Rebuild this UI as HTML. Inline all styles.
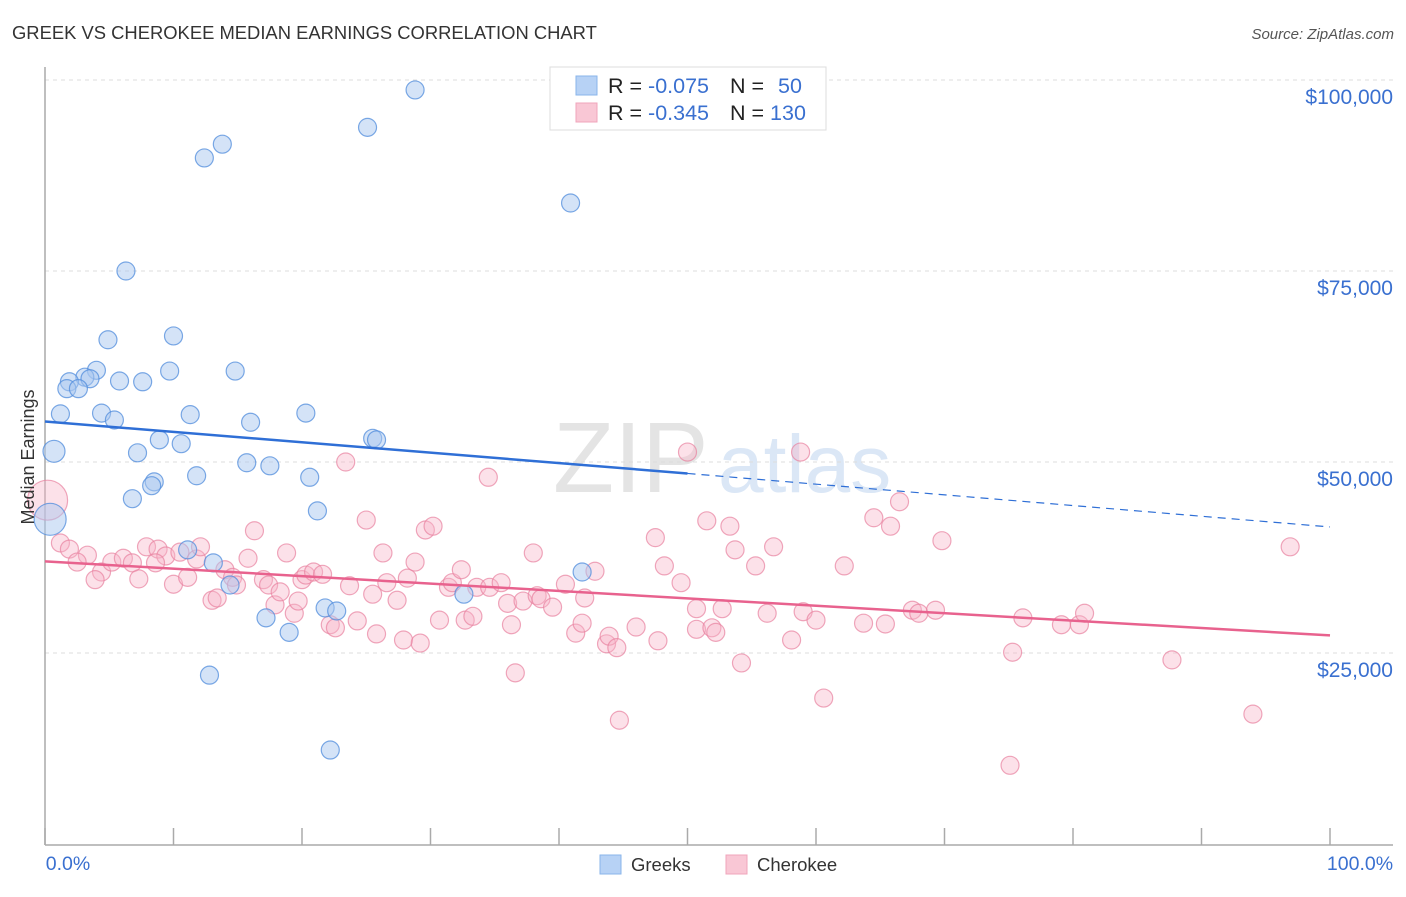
<!DOCTYPE html>
<html><head><meta charset="utf-8"><style>
body{margin:0;background:#fff;font-family:"Liberation Sans",sans-serif}
svg text{font-family:"Liberation Sans",sans-serif}
</style></head><body>
<svg width="1406" height="892" viewBox="0 0 1406 892">
<text x="12" y="39" font-size="18.4" fill="#333">GREEK VS CHEROKEE MEDIAN EARNINGS CORRELATION CHART</text>
<text x="1394" y="39" font-size="15" fill="#555" font-style="italic" text-anchor="end">Source: ZipAtlas.com</text>
<g>
<text x="553" y="492" font-size="100" fill="#e4e4e4" font-family="Liberation Serif">ZIP</text>
<text x="718" y="492" font-size="82" fill="#dbe7f6">atlas</text>
</g>
<g id="grid"></g>
<g id="axes"></g>
<g id="marks"></g>
<g>
<rect x="550" y="67" width="276" height="63" fill="#fff" stroke="#ddd"/>
<rect x="576" y="76" width="21" height="19" fill="#b7d2f5" stroke="#8ab4ea"/>
<rect x="576" y="103" width="21" height="19" fill="#f9c7d5" stroke="#f0a4bb"/>
<text x="608" y="93" font-size="21.5" fill="#222">R = <tspan fill="#3a70d0">-0.075</tspan></text>
<text x="730" y="93" font-size="21.5" fill="#222">N = <tspan fill="#3a70d0" dx="8">50</tspan></text>
<text x="608" y="120" font-size="21.5" fill="#222">R = <tspan fill="#3a70d0">-0.345</tspan></text>
<text x="730" y="120" font-size="21.5" fill="#222">N = <tspan fill="#3a70d0">130</tspan></text>
</g>
<g>
<rect x="600" y="855" width="21" height="19" fill="#b7d2f5" stroke="#8ab4ea"/>
<text x="631" y="871" font-size="18.5" fill="#333">Greeks</text>
<rect x="726" y="855" width="21" height="19" fill="#f9c7d5" stroke="#f0a4bb"/>
<text x="757" y="871" font-size="18.5" fill="#333">Cherokee</text>
</g>
<text transform="translate(34,457) rotate(-90)" font-size="18" fill="#333" text-anchor="middle">Median Earnings</text>
</svg>
<script>
const yTicks=[25000,50000,75000,100000];
const yTickLabels=["$25,000","$50,000","$75,000","$100,000"];
const xTickLabels=["0.0%","100.0%"];
const greekX=[28.8,25.1,13.8,12.4,40.9,6.3,4.9,10.0,4.0,9.7,14.8,3.1,1.9,3.5,5.8,7.6,1.7,2.6,1.2,4.4,11.3,20.3,5.4,16.0,8.9,10.6,25.5,25.8,0.7,7.2,15.7,17.5,11.8,20.6,8.5,8.3,6.8,21.2,0.4,11.1,13.1,14.4,41.8,32.6,21.8,22.7,17.2,19.0,12.8,22.2];
const greekY=[98.7,93.8,91.6,89.8,83.9,75.0,66.0,66.5,62.0,61.9,61.9,61.1,60.5,60.9,60.6,60.5,59.6,59.6,56.3,56.4,56.2,56.4,55.5,55.2,52.9,52.4,53.1,52.9,51.4,51.2,49.9,49.5,48.2,48.0,47.4,46.9,45.2,43.6,42.5,38.5,36.8,33.9,35.6,32.7,30.9,30.5,29.6,27.7,22.1,12.3];
const cherX=[0.2,23.4,34.5,50.0,58.8,1.2,1.9,3.3,2.5,4.4,5.2,6.1,6.8,7.3,7.9,8.8,9.4,10.0,10.5,11.1,11.8,12.1,13.0,14.0,14.6,14.9,13.4,15.8,16.3,17.0,17.4,17.9,18.3,18.8,19.4,19.7,20.0,20.3,20.9,21.6,22.2,22.6,23.7,24.3,25.0,25.5,25.8,26.3,26.6,27.4,27.9,28.2,28.8,29.2,29.6,30.2,30.7,31.4,31.7,32.4,32.7,33.3,33.6,34.6,35.5,36.0,36.3,36.6,37.2,38.0,38.3,38.6,39.5,40.5,41.3,41.8,42.0,42.8,43.7,43.9,44.5,44.7,46.0,47.5,47.7,48.2,49.5,50.7,50.7,51.5,51.9,52.2,52.7,53.3,53.7,54.2,55.3,56.2,56.7,58.1,59.0,60.0,60.6,62.2,63.7,64.5,65.4,65.8,66.5,67.5,68.0,69.3,69.8,75.3,75.1,76.1,79.1,80.5,80.9,87.7,94.0,96.9,3.9,8.6];
const cherY=[45.0,50.0,48.0,51.3,51.3,39.4,38.6,37.8,36.9,35.6,36.9,37.4,36.8,34.7,38.9,38.6,37.7,34.0,38.2,34.9,37.3,38.9,31.9,35.9,34.9,33.9,32.2,37.4,41.0,34.6,33.9,31.3,33.0,38.1,30.2,31.8,34.6,35.2,35.6,35.3,28.7,28.3,33.8,29.2,42.4,32.7,27.5,38.1,34.2,31.9,26.7,34.8,36.9,26.3,41.1,41.6,29.3,33.6,34.2,35.9,29.3,29.8,33.6,33.6,34.2,31.5,28.7,22.4,31.8,38.1,32.5,32.1,31.0,34.0,27.6,28.9,32.2,35.7,26.2,27.2,25.7,16.2,28.4,40.1,26.6,36.4,34.2,30.8,28.1,42.3,28.3,27.7,30.8,41.6,38.5,23.7,36.4,30.2,38.9,26.7,30.4,29.3,19.1,36.4,28.9,42.7,28.8,41.6,44.8,30.6,30.2,30.6,39.7,25.1,10.3,29.6,28.7,28.7,30.2,24.1,17.0,38.9,34.6,36.8];
const greekTrend=[55300,48500,41500]; // at 0%, 50%, 100%
const cherTrend=[37000,27300];       // at 0%, 100%

const NS="http://www.w3.org/2000/svg";
const xs=v=>45+v*12.85;
const ys=v=>844-v/1000*7.64;
function mk(tag,attrs,parent){const e=document.createElementNS(NS,tag);for(const k in attrs)e.setAttribute(k,attrs[k]);parent.appendChild(e);return e;}
const grid=document.getElementById('grid'),axes=document.getElementById('axes'),marks=document.getElementById('marks');
yTicks.forEach((t,i)=>{
  const l=mk('line',{x1:45,x2:1393,y1:ys(t),y2:ys(t),stroke:'#dcdcdc','stroke-dasharray':'4,4'},grid);
  
  
  const tx=mk('text',{x:1393,y:ys(t)+24,'font-size':21,fill:'#3a70d0','text-anchor':'end'},grid);
  tx.textContent=yTickLabels[i];
  
  
});
const ya=mk('line',{x1:45,x2:45,y1:67,y2:845,stroke:'#aaa','stroke-width':1.5},axes);


const xa=mk('line',{x1:45,x2:1393,y1:845,y2:845,stroke:'#aaa','stroke-width':1.5},axes);


for(let i=0;i<=10;i++){
  const tk=mk('line',{x1:xs(i*10),x2:xs(i*10),y1:828,y2:845,stroke:'#aaa','stroke-width':1.5},axes);
  
  
}
[[xs(0)+23,xTickLabels[0]],[xs(100)+30,xTickLabels[1]]].forEach(([x,t])=>{
  const tx=mk('text',{x:x,y:870,'font-size':19.5,fill:'#3a70d0','text-anchor':'middle'},axes);
  tx.textContent=t;
  
  
});
cherX.forEach((x,i)=>{
  const r=i===0?20:9;
  const c=mk('circle',{cx:xs(x),cy:ys(cherY[i]*1000),r:r,fill:'rgba(248,180,200,0.4)',stroke:'rgba(232,130,160,0.7)','stroke-width':1.2},marks);
  
  
});
greekX.forEach((x,i)=>{
  const r=i===28?11:(i===38?16:9);
  const c=mk('circle',{cx:xs(x),cy:ys(greekY[i]*1000),r:r,fill:'rgba(170,200,240,0.5)',stroke:'rgba(80,140,220,0.75)','stroke-width':1.2},marks);
  
  
});
const g1=mk('line',{x1:xs(0),y1:ys(greekTrend[0]),x2:xs(50),y2:ys(greekTrend[1]),stroke:'#2f6fd6','stroke-width':2.5},marks);


const g2=mk('line',{x1:xs(50),y1:ys(greekTrend[1]),x2:xs(100),y2:ys(greekTrend[2]),stroke:'#2f6fd6','stroke-width':1.2,'stroke-dasharray':'8,6'},marks);


const c1=mk('line',{x1:xs(0),y1:ys(cherTrend[0]),x2:xs(100),y2:ys(cherTrend[1]),stroke:'#e8628e','stroke-width':2.5},marks);


</script>
</body></html>
